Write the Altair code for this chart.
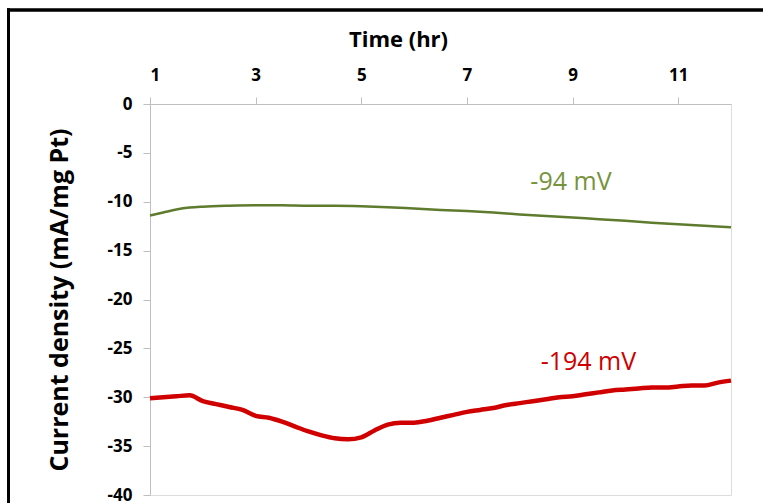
import altair as alt
import pandas as pd

# ---- data ----
time_red = [1.0, 1.25, 1.5, 1.75, 2.0, 2.25, 2.5, 2.75, 3.0, 3.25, 3.5, 3.75, 4.0, 4.25,
            4.5, 4.75, 5.0, 5.25, 5.5, 5.75, 6.0, 6.25, 6.5, 6.75, 7.0, 7.25, 7.5, 7.75,
            8.0, 8.25, 8.5, 8.75, 9.0, 9.25, 9.5, 9.75, 10.0, 10.25, 10.5, 10.75, 11.0,
            11.25, 11.5, 11.75, 12.0]
current_red = [-30.1, -30.0, -29.9, -29.8, -30.4, -30.7, -31.0, -31.3, -31.9, -32.1, -32.5,
               -33.0, -33.5, -33.9, -34.2, -34.3, -34.1, -33.4, -32.8, -32.6, -32.6, -32.4,
               -32.1, -31.8, -31.5, -31.3, -31.1, -30.8, -30.6, -30.4, -30.2, -30.0, -29.9,
               -29.7, -29.5, -29.3, -29.2, -29.1, -29.0, -29.0, -28.9, -28.8, -28.8, -28.5,
               -28.3]

time_green = [1.0, 1.25, 1.5, 1.75, 2.0, 2.5, 3.0, 3.5, 4.0, 4.5, 5.0, 5.5, 6.0, 6.5, 7.0,
              7.5, 8.0, 8.5, 9.0, 9.5, 10.0, 10.5, 11.0, 11.5, 12.0]
current_green = [-11.4, -11.1, -10.8, -10.6, -10.5, -10.4, -10.35, -10.35, -10.4, -10.4,
                 -10.45, -10.55, -10.7, -10.85, -10.95, -11.1, -11.3, -11.45, -11.6, -11.8,
                 -11.95, -12.15, -12.3, -12.45, -12.6]

series_names = ["-94 mV", "-194 mV"]
label_time = [8.97, 9.3]
label_current = [-8.0, -26.4]

x_ticks = [1, 3, 5, 7, 9, 11]
y_ticks = [0, -5, -10, -15, -20, -25, -30, -35, -40]

line_colors = ["#5E7B2E", "#D00000"]
text_colors = ["#77933C", "#CC0000"]

df = pd.concat([
    pd.DataFrame({"time": time_green, "current": current_green, "series": series_names[0]}),
    pd.DataFrame({"time": time_red, "current": current_red, "series": series_names[1]}),
])
labels = pd.DataFrame({"time": label_time, "current": label_current, "series": series_names})

W, H = 581, 391
TOP, LEFT, RIGHT, BOTTOM = 104, 150, 32, 8
FONT = "Open Sans"

x_scale = alt.Scale(domain=[1, 12], nice=False, zero=False)
y_scale = alt.Scale(domain=[-40, 0], nice=False)

x_axis = alt.Axis(orient="top", values=x_ticks, title="Time (hr)", grid=False,
                  domainColor="#BFBFBF", tickColor="#BFBFBF", tickSize=7,
                  labelFont=FONT, labelFontSize=17, labelFontWeight="bold", labelColor="#000000",
                  labelPadding=13,
                  titleFont=FONT, titleFontSize=22, titleFontWeight="bold", titleColor="#000000",
                  titleX=248, titleY=-65, titleBaseline="middle", titleAlign="center")
y_axis = alt.Axis(orient="left", values=y_ticks, title="Current density (mA/mg Pt)", grid=False,
                  domainColor="#BFBFBF", tickColor="#BFBFBF", tickSize=7,
                  labelExpr="toString(datum.value)",
                  labelFont=FONT, labelFontSize=17, labelFontWeight="bold", labelColor="#000000",
                  labelPadding=11,
                  titleFont=FONT, titleFontSize=25, titleFontWeight="bold", titleColor="#000000",
                  titleX=-91, titleY=H / 2, titleAngle=-90, titleBaseline="middle", titleAlign="center")

lines = alt.Chart(df).mark_line(interpolate="monotone").encode(
    x=alt.X("time:Q", scale=x_scale, axis=x_axis),
    y=alt.Y("current:Q", scale=y_scale, axis=y_axis),
    color=alt.Color("series:N", scale=alt.Scale(domain=series_names, range=line_colors), legend=None),
    strokeWidth=alt.StrokeWidth("series:N", scale=alt.Scale(domain=series_names, range=[2.5, 4.5]), legend=None),
    detail="series:N",
)

texts = alt.Chart(labels).mark_text(font=FONT, fontSize=25, baseline="middle", align="center").encode(
    x=alt.X("time:Q", scale=x_scale),
    y=alt.Y("current:Q", scale=y_scale),
    text="series:N",
    color=alt.Color("series:N", scale=alt.Scale(domain=series_names, range=text_colors), legend=None),
)

# decorative outer frame (left and top edges only), kept inside the canvas
frame_left = alt.Chart(labels).mark_rule(stroke="#000000", strokeWidth=3).encode(
    x=alt.value(-141.5), y=alt.value(-95.5), y2=alt.value(H + BOTTOM),
)
frame_top = alt.Chart(labels).mark_rule(stroke="#000000", strokeWidth=3).encode(
    x=alt.value(-143), x2=alt.value(W + RIGHT), y=alt.value(-94),
)
# white strip near the right edge (the reference has no right-hand border)
right_mask = alt.Chart(labels).mark_rule(stroke="#FFFFFF", strokeWidth=10).encode(
    x=alt.value(W + RIGHT - 6), y=alt.value(-92), y2=alt.value(H + BOTTOM),
)

chart = alt.layer(frame_left, frame_top, lines, texts, right_mask).resolve_scale(color="independent").properties(
    width=W, height=H,
    padding={"left": LEFT, "top": TOP, "right": RIGHT, "bottom": BOTTOM},
    autosize=alt.AutoSizeParams(type="none"),
).configure_view(stroke=None).configure(background="#FFFFFF")

chart.save("out.html", embed_options={"renderer": "svg", "actions": False})
